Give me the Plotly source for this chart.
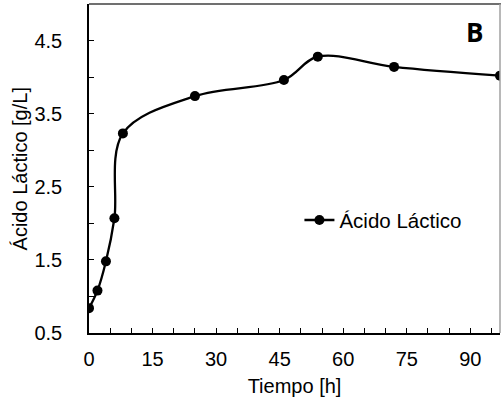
import plotly.graph_objects as go

# Data
tiempo_h = [0, 2, 4, 6, 8, 25, 46, 54, 72, 97]
acido_lactico = [0.84, 1.08, 1.48, 2.07, 3.23, 3.74, 3.96, 4.28, 4.14, 4.02]
serie_nombre = "Ácido Láctico"
y_tick_vals = [0.5, 1.5, 2.5, 3.5, 4.5]
y_tick_text = ["0.5", "1.5", "2.5", "3.5", "4.5"]
x_tick_vals = [0, 15, 30, 45, 60, 75, 90]
y_titulo = "Ácido Láctico [g/L]"
x_titulo = "Tiempo [h]"

FONT = "Liberation Sans, Arial, sans-serif"

fig = go.Figure()
fig.add_trace(go.Scatter(
    x=tiempo_h, y=acido_lactico, name=serie_nombre,
    mode="lines+markers",
    line=dict(color="black", width=2.3, shape="spline", smoothing=1.0),
    marker=dict(color="black", size=10, symbol="circle"),
))

fig.update_layout(
    width=501, height=404,
    margin=dict(l=89, r=1, t=4, b=71),
    paper_bgcolor="white", plot_bgcolor="white",
    font=dict(family=FONT, size=20, color="black"),
    showlegend=True,
    legend=dict(x=0.512, y=0.343, xanchor="left", yanchor="middle",
                bgcolor="rgba(0,0,0,0)", borderwidth=0,
                font=dict(family=FONT, size=20.5, color="black")),
    xaxis=dict(
        range=[0, 97], tickvals=x_tick_vals,
        showgrid=False, zeroline=False,
        showline=True, linecolor="black", linewidth=1.5,
        ticks="inside", ticklen=5, tickwidth=1, tickcolor="black",
        minor=dict(dtick=5, tick0=0, ticks="inside", ticklen=5, tickwidth=1, tickcolor="black"),
        tickfont=dict(family=FONT, size=20, color="black"),
        ticklabelstandoff=7,
        title=dict(text=x_titulo, font=dict(family=FONT, size=20, color="black"), standoff=10),
    ),
    yaxis=dict(
        range=[0.5, 5.0], tickvals=y_tick_vals, ticktext=y_tick_text,
        showgrid=False, zeroline=False,
        showline=True, linecolor="black", linewidth=1.5,
        ticks="inside", ticklen=5, tickwidth=1, tickcolor="black",
        minor=dict(dtick=0.5, tick0=0.5, ticks="inside", ticklen=5, tickwidth=1, tickcolor="black"),
        tickfont=dict(family=FONT, size=20, color="black"),
        ticklabelstandoff=21,
    ),
    shapes=[
        dict(type="line", xref="paper", yref="paper", x0=0, x1=1.01, y0=1, y1=1,
             line=dict(color="#404040", width=1.5)),
        dict(type="line", xref="paper", yref="paper", x0=1, x1=1, y0=0, y1=1,
             line=dict(color="#a0a0a0", width=1.5)),
    ],
    annotations=[
        dict(text="<b>B</b>", xref="paper", yref="paper", x=0.939, y=0.916,
             xanchor="center", yanchor="middle", showarrow=False,
             font=dict(family="Open Sans, Lato, sans-serif", size=26, color="black")),
        dict(text=y_titulo, xref="paper", yref="paper", x=-0.168, y=0.5,
             xanchor="center", yanchor="middle", textangle=-90, showarrow=False,
             font=dict(family=FONT, size=20, color="black")),
    ],
)

fig.write_html("out.html")
